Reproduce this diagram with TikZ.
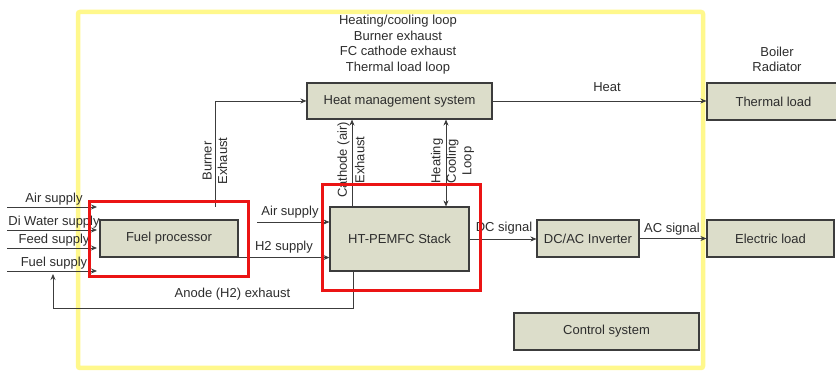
\documentclass[tikz,border=0pt]{standalone}
\usepackage{fontspec}
\setmainfont{Liberation Sans}
\usetikzlibrary{arrows.meta,calc}
\definecolor{boxfill}{RGB}{220,221,202}
\definecolor{boxline}{RGB}{60,60,60}
\definecolor{txt}{RGB}{45,45,45}
\definecolor{yel}{RGB}{255,248,140}
\definecolor{redb}{RGB}{235,20,20}
\tikzset{
  blk/.style={draw=boxline,line width=1.1pt,fill=boxfill,text=txt,inner sep=0pt,font=\fontsize{13}{15.6}\selectfont},
  lbl/.style={text=txt,inner sep=1pt,font=\fontsize{13}{15.6}\selectfont,align=center},
  conn/.style={draw=boxline,line width=0.8pt},
  arr/.style={conn,-{Stealth[length=6pt,width=5pt]}},
  darr/.style={conn,{Stealth[length=6pt,width=5pt]}-{Stealth[length=6pt,width=5pt]}},
  redbox/.style={draw=redb,line width=3pt},
  yelbox/.style={draw=yel,line width=4.5pt,rounded corners=2pt}
}
\begin{document}
\begin{tikzpicture}[x=1pt,y=-1pt]
\useasboundingbox (0,0) rectangle (836,371);
\fill[white] (0,0) rectangle (836,371);
% outer yellow frame
\draw[yelbox] (78,12) rectangle (703,368);

% blocks
\node[blk,minimum width=138pt,minimum height=37pt] (fp) at (169,238.5) {Fuel processor};
\node[blk,minimum width=139pt,minimum height=64pt] (stack) at (399.5,239) {HT-PEMFC Stack};
\node[blk,minimum width=185pt,minimum height=36pt] (hms) at (399.5,101) {Heat management system};
\node[blk,minimum width=133pt,minimum height=37pt] (thermal) at (773.5,101.5) {Thermal load};
\node[blk,minimum width=127pt,minimum height=37pt] (elec) at (770.5,238.5) {Electric load};
\node[blk,minimum width=102pt,minimum height=37pt] (inv) at (588,238.5) {DC/AC Inverter};
\node[blk,minimum width=185pt,minimum height=37pt] (ctrl) at (606.5,331.5) {Control system};

% top texts
\node[lbl] (toptxt) at (398,44.5) {Heating/cooling loop\\Burner exhaust\\FC cathode exhaust\\Thermal load loop};
\node[lbl] (boiler) at (777,59.5) {Boiler\\Radiator};

% supply inputs
\foreach \n/\y/\t in {a/207/Air supply,w/230/Di Water supply,f/248/Feed supply,u/271/Fuel supply}{
  \coordinate (s\n) at (7,\y);
  \coordinate (e\n) at (97,\y);
  \draw[arr] (s\n) -- (e\n);
  \node[lbl,anchor=south] (l\n) at (54,\y-0.5) {\t};
}

% burner exhaust
\coordinate (be) at (215,207);
\draw[arr] (be) |- (hms.west);
\node[lbl,rotate=90] (bel) at (215,161) {Burner\\Exhaust};

% cathode exhaust
\coordinate (cx) at (352,0);
\draw[arr] (stack.north -| cx) -- (hms.south -| cx);
\node[lbl,rotate=90,font=\fontsize{13}{17.5}\selectfont] (cel) at (351,160) {Cathode (air)\\Exhaust};

% heating cooling loop
\coordinate (hx) at (446,0);
\draw[darr] (stack.north -| hx) -- (hms.south -| hx);
\node[lbl,rotate=90] (hcl) at (452.5,161) {Heating\\Cooling\\Loop};

% heat
\draw[arr] (hms.east) -- (thermal.west |- hms.east);
\node[lbl] (heatl) at (607,87) {Heat};

% air supply to stack
\coordinate (as) at (257,222);
\draw[arr] (as) -- (as -| stack.west);
\node[lbl] (asl) at (290,212) {Air supply};

% H2 supply
\draw[arr] (fp.south east) -- (fp.south east -| stack.west);
\node[lbl] (h2l) at (284,247) {H2 supply};

% DC signal
\draw[arr] (stack.east) -- (stack.east -| inv.west);
\node[lbl] (dcl) at (504,228.5) {DC signal};

% AC signal
\draw[arr] (inv.east) -- (elec.west);
\node[lbl] (acl) at (672,229.5) {AC signal};

% anode exhaust
\coordinate (anx) at (353,308);
\coordinate (anend) at (53,274);
\draw[arr] (stack.south -| anx) -- (anx) -| (anend);
\node[lbl] (anl) at (232.5,294) {Anode (H2) exhaust};

% red highlight boxes
\draw[redbox] (89,202) rectangle (248,277);
\draw[redbox] (322,185) rectangle (480,291);
\end{tikzpicture}
\end{document}
